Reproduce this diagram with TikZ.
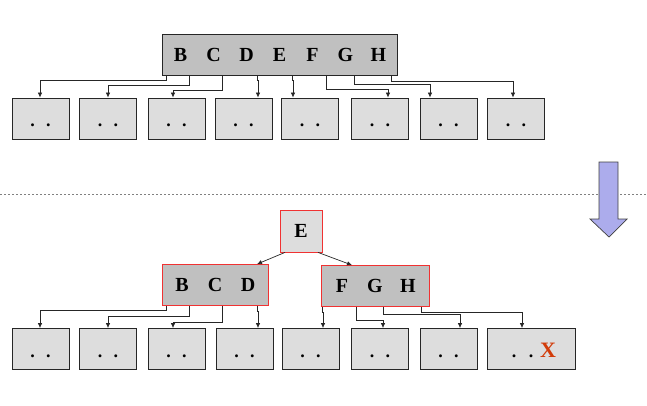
\documentclass[tikz,border=0pt]{standalone}
\usepackage{fontspec}
\newfontfamily\keyfont{Liberation Serif}
\usetikzlibrary{arrows.meta,calc}
\definecolor{nodegray}{RGB}{192,192,192}
\definecolor{leafgray}{RGB}{221,221,221}
\definecolor{redline}{RGB}{240,50,50}
\definecolor{xred}{RGB}{210,60,10}
\definecolor{lav}{RGB}{172,172,236}
\newcommand{\ltr}[1]{\makebox[33pt]{#1}}
\newcommand{\dt}{\makebox[16pt]{.}}
\newcommand{\conn}[5]{\draw[arr] ($(#1.south west)+(#2,0)$) -- ++(0,#3) -| ($(#4.north)+(#5,0)$);}
\begin{document}
\begin{tikzpicture}[x=1pt,y=-1pt,
  arr/.style={draw=black!85, line width=0.7pt, -{Latex[length=5pt,width=4.5pt]}},
  leaf/.style={draw=black!85, line width=0.8pt, fill=leafgray, minimum width=57pt, minimum height=41pt, inner sep=0pt, text height=16pt, text depth=0pt, font=\keyfont\bfseries\fontsize{18}{18}\selectfont},
  keybox/.style={line width=0.8pt, fill=nodegray, minimum height=41pt, inner sep=0pt, font=\keyfont\bfseries\fontsize{20}{20}\selectfont},
  redbox/.style={keybox, draw=redline},
]
\useasboundingbox (0,0) rectangle (647,405);
% top part
\node[keybox, draw=black!85, minimum width=235pt] (T) at (279.5,54.5) {\ltr{B}\ltr{C}\ltr{D}\ltr{E}\ltr{F}\ltr{G}\ltr{H}};
\node[leaf] (a1) at (40.5,118.5) {\dt\dt};
\node[leaf] (a2) at (108,118.5) {\dt\dt};
\node[leaf] (a3) at (176.5,118.5) {\dt\dt};
\node[leaf] (a4) at (243.5,118.5) {\dt\dt};
\node[leaf] (a5) at (310,118.5) {\dt\dt};
\node[leaf] (a6) at (380,118.5) {\dt\dt};
\node[leaf] (a7) at (448.5,118.5) {\dt\dt};
\node[leaf] (a8) at (516,118.5) {\dt\dt};
\conn{T}{5}{5}{a1}{-0.5}
\conn{T}{28}{10}{a2}{0}
\conn{T}{61}{15}{a3}{-3.5}
\conn{T}{96}{5}{a4}{14.5}
\conn{T}{131}{5}{a5}{-17}
\conn{T}{165}{14}{a6}{8}
\conn{T}{193}{9}{a7}{-18.5}
\conn{T}{230}{6}{a8}{-3}
% separator
\draw[gray, line width=0.6pt, dash pattern=on 2pt off 2pt] (0,194) -- (647,194);
% big arrow
\draw[fill=lav, draw=black!75, line width=0.7pt] (599,162) -- (618,162) -- (618,219) -- (627,219) -- (609,237) -- (590,219) -- (599,219) -- cycle;
% bottom part
\node[keybox, draw=redline, fill=leafgray, minimum width=42pt, minimum height=42pt] (E) at (301,231) {E};
\node[redbox, minimum width=106pt] (L) at (215,285) {\ltr{B}\ltr{C}\ltr{D}};
\node[redbox, minimum width=108pt] (R) at (375,286) {\ltr{F}\ltr{G}\ltr{H}};
\draw[arr] ($(E.south)+(-16,0)$) -- ($(L.north)+(42,0)$);
\draw[arr] ($(E.south)+(17,0)$) -- ($(R.north)+(-23,0)$);
\node[leaf] (b1) at (40.5,349) {\dt\dt};
\node[leaf] (b2) at (108,349) {\dt\dt};
\node[leaf] (b3) at (176.5,349) {\dt\dt};
\node[leaf] (b4) at (244.5,349) {\dt\dt};
\node[leaf] (b5) at (310.5,349) {\dt\dt};
\node[leaf] (b6) at (380,349) {\dt\dt};
\node[leaf] (b7) at (448.5,349) {\dt\dt};
\node[leaf, minimum width=88pt] (b8) at (531,349) {\makebox[17pt]{.}\makebox[17pt]{.}\makebox[17pt]{\textcolor{xred}{\fontsize{22}{22}\selectfont X}}};
\conn{L}{5}{4}{b1}{-0.5}
\conn{L}{28}{10}{b2}{0}
\conn{L}{61}{16}{b3}{-3.5}
\conn{L}{96}{5}{b4}{13.5}
\conn{R}{2}{5}{b5}{12.5}
\conn{R}{36}{13}{b6}{3}
\conn{R}{63}{7}{b7}{11.5}
\conn{R}{101}{5}{b8}{-9}
\end{tikzpicture}
\end{document}
